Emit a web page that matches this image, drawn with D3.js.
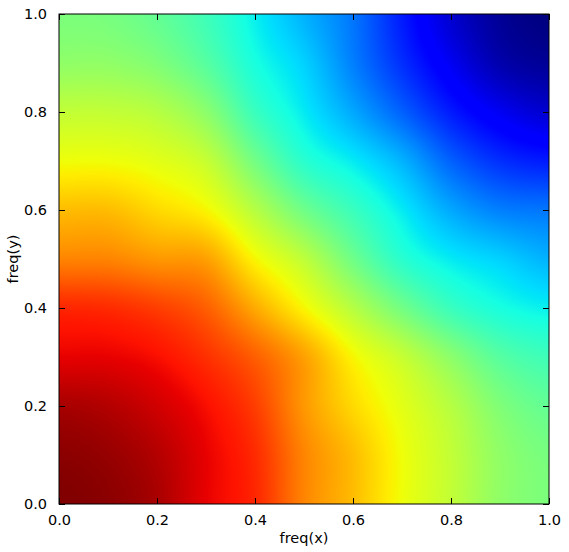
<!DOCTYPE html>
<html>
<head>
<meta charset="utf-8">
<script src="https://cdn.jsdelivr.net/npm/d3@7"></script>
<style>
  body { margin: 0; background: #fff; }
  text { font-family: "DejaVu Sans", sans-serif; }
</style>
</head>
<body>
<svg id="chart" width="569" height="552"></svg>
<script>
// grid positions (freq) where the values were read
const freqX = [0, 0.1, 0.2, 0.3, 0.4, 0.5, 0.6, 0.7, 0.8, 0.9, 1.0];
const freqY = [0, 0.1, 0.2, 0.3, 0.4, 0.5, 0.6, 0.7, 0.8, 0.9, 1.0];

// one row per freqY, bottom (0.0) to top (1.0); colour level 0..1 on jet
const row00 = [1.00, 0.99, 0.965, 0.91, 0.87, 0.77, 0.71, 0.64, 0.585, 0.525, 0.50];
const row01 = [0.99, 0.98, 0.955, 0.91, 0.865, 0.77, 0.71, 0.64, 0.585, 0.525, 0.495];
const row02 = [0.965, 0.955, 0.93, 0.895, 0.845, 0.75, 0.68, 0.625, 0.57, 0.505, 0.47];
const row03 = [0.91, 0.91, 0.895, 0.86, 0.81, 0.74, 0.65, 0.59, 0.52, 0.455, 0.425];
const row04 = [0.87, 0.865, 0.845, 0.81, 0.73, 0.65, 0.57, 0.49, 0.42, 0.38, 0.36];
const row05 = [0.77, 0.77, 0.75, 0.74, 0.65, 0.58, 0.485, 0.40, 0.355, 0.33, 0.30];
const row06 = [0.71, 0.71, 0.68, 0.65, 0.57, 0.485, 0.42, 0.355, 0.29, 0.25, 0.24];
const row07 = [0.64, 0.64, 0.625, 0.59, 0.49, 0.40, 0.355, 0.30, 0.22, 0.17, 0.15];
const row08 = [0.585, 0.585, 0.57, 0.52, 0.42, 0.355, 0.29, 0.22, 0.15, 0.10, 0.07];
const row09 = [0.525, 0.525, 0.505, 0.455, 0.38, 0.33, 0.25, 0.17, 0.10, 0.04, 0.02];
const row10 = [0.50, 0.495, 0.47, 0.425, 0.36, 0.30, 0.24, 0.15, 0.07, 0.02, 0.00];
const rows = [row00, row01, row02, row03, row04, row05, row06, row07, row08, row09, row10];

const tickValues = [0, 0.2, 0.4, 0.6, 0.8, 1.0];

const margin = {left: 59, top: 14, right: 20, bottom: 48};
const width = 490, height = 490;

const svg = d3.select("#chart");
const g = svg.append("g").attr("transform", `translate(${margin.left},${margin.top})`);

const x = d3.scaleLinear().domain([0, 1]).range([0, width]);
const y = d3.scaleLinear().domain([0, 1]).range([height, 0]);

// jet colormap, channel by channel
const jetR = d3.scaleLinear().domain([0, 0.35, 0.66, 0.89, 1]).range([0, 0, 1, 1, 0.5]).clamp(true);
const jetG = d3.scaleLinear().domain([0, 0.125, 0.375, 0.64, 0.91, 1]).range([0, 0, 1, 1, 0, 0]).clamp(true);
const jetB = d3.scaleLinear().domain([0, 0.11, 0.34, 0.65, 1]).range([0.5, 1, 1, 0, 0]).clamp(true);

// index scales to place a pixel inside the value grid
const ix = d3.scaleLinear().domain([0, 1]).range([0, freqX.length - 1]).clamp(true);
const iy = d3.scaleLinear().domain([0, 1]).range([0, freqY.length - 1]).clamp(true);

// smooth (cubic) resampling of the grid, like an interpolated imshow
function weights(t) {
  const t2 = t * t, t3 = t2 * t;
  return [(-t3 + 2 * t2 - t) / 2, (3 * t3 - 5 * t2 + 2) / 2, (-3 * t3 + 4 * t2 + t) / 2, (t3 - t2) / 2];
}
const nx = freqX.length, ny = freqY.length;
function cell(r, c) {
  r = Math.max(0, Math.min(ny - 1, r));
  c = Math.max(0, Math.min(nx - 1, c));
  return rows[r][c];
}
function valueAt(fx, fy) {
  const gx = ix(fx), gy = iy(fy);
  const x0 = Math.min(Math.floor(gx), nx - 2), y0 = Math.min(Math.floor(gy), ny - 2);
  const wx = weights(gx - x0), wy = weights(gy - y0);
  let v = 0;
  for (let j = 0; j < 4; j++) {
    let s = 0;
    for (let i = 0; i < 4; i++) s += wx[i] * cell(y0 - 1 + j, x0 - 1 + i);
    v += wy[j] * s;
  }
  return Math.max(0, Math.min(1, v));
}

const canvas = document.createElement("canvas");
canvas.width = width; canvas.height = height;
const ctx = canvas.getContext("2d");
const img = ctx.createImageData(width, height);
for (let py = 0; py < height; py++) {
  for (let px = 0; px < width; px++) {
    const v = valueAt(x.invert(px + 0.5), y.invert(py + 0.5));
    const k = (py * width + px) * 4;
    img.data[k] = Math.round(jetR(v) * 255);
    img.data[k + 1] = Math.round(jetG(v) * 255);
    img.data[k + 2] = Math.round(jetB(v) * 255);
    img.data[k + 3] = 255;
  }
}
ctx.putImageData(img, 0, 0);

g.append("image")
  .attr("x", x(0)).attr("y", y(1))
  .attr("width", width).attr("height", height)
  .attr("preserveAspectRatio", "none")
  .attr("href", canvas.toDataURL());

// axes: inward ticks on all four sides
const fmt = d3.format(".1f");
const fontSize = "14.5px";

const xBottom = g.append("g").attr("transform", `translate(0,${height})`)
  .call(d3.axisBottom(x).tickValues(tickValues).tickFormat(fmt).tickSizeInner(-6).tickSizeOuter(0).tickPadding(11));
const xTop = g.append("g")
  .call(d3.axisTop(x).tickValues(tickValues).tickFormat("").tickSizeInner(-6).tickSizeOuter(0));
const yLeft = g.append("g")
  .call(d3.axisLeft(y).tickValues(tickValues).tickFormat(fmt).tickSizeInner(-6).tickSizeOuter(0).tickPadding(12));
const yRight = g.append("g").attr("transform", `translate(${width},0)`)
  .call(d3.axisRight(y).tickValues(tickValues).tickFormat("").tickSizeInner(-6).tickSizeOuter(0));

[xBottom, xTop, yLeft, yRight].forEach(a => {
  a.select(".domain").remove();
  a.selectAll(".tick line").attr("stroke", "#000");
  a.selectAll("text").attr("fill", "#000").style("font-size", fontSize);
});

// frame
g.append("rect")
  .attr("x", 0).attr("y", 0).attr("width", width).attr("height", height)
  .attr("fill", "none").attr("stroke", "#000").attr("stroke-width", 1);

g.append("text")
  .attr("x", width / 2).attr("y", height + 39)
  .attr("text-anchor", "middle").style("font-size", fontSize)
  .text("freq(x)");

g.append("text")
  .attr("transform", `translate(${18 - margin.left},${height / 2}) rotate(-90)`)
  .attr("text-anchor", "middle").style("font-size", fontSize)
  .text("freq(y)");
</script>
</body>
</html>
